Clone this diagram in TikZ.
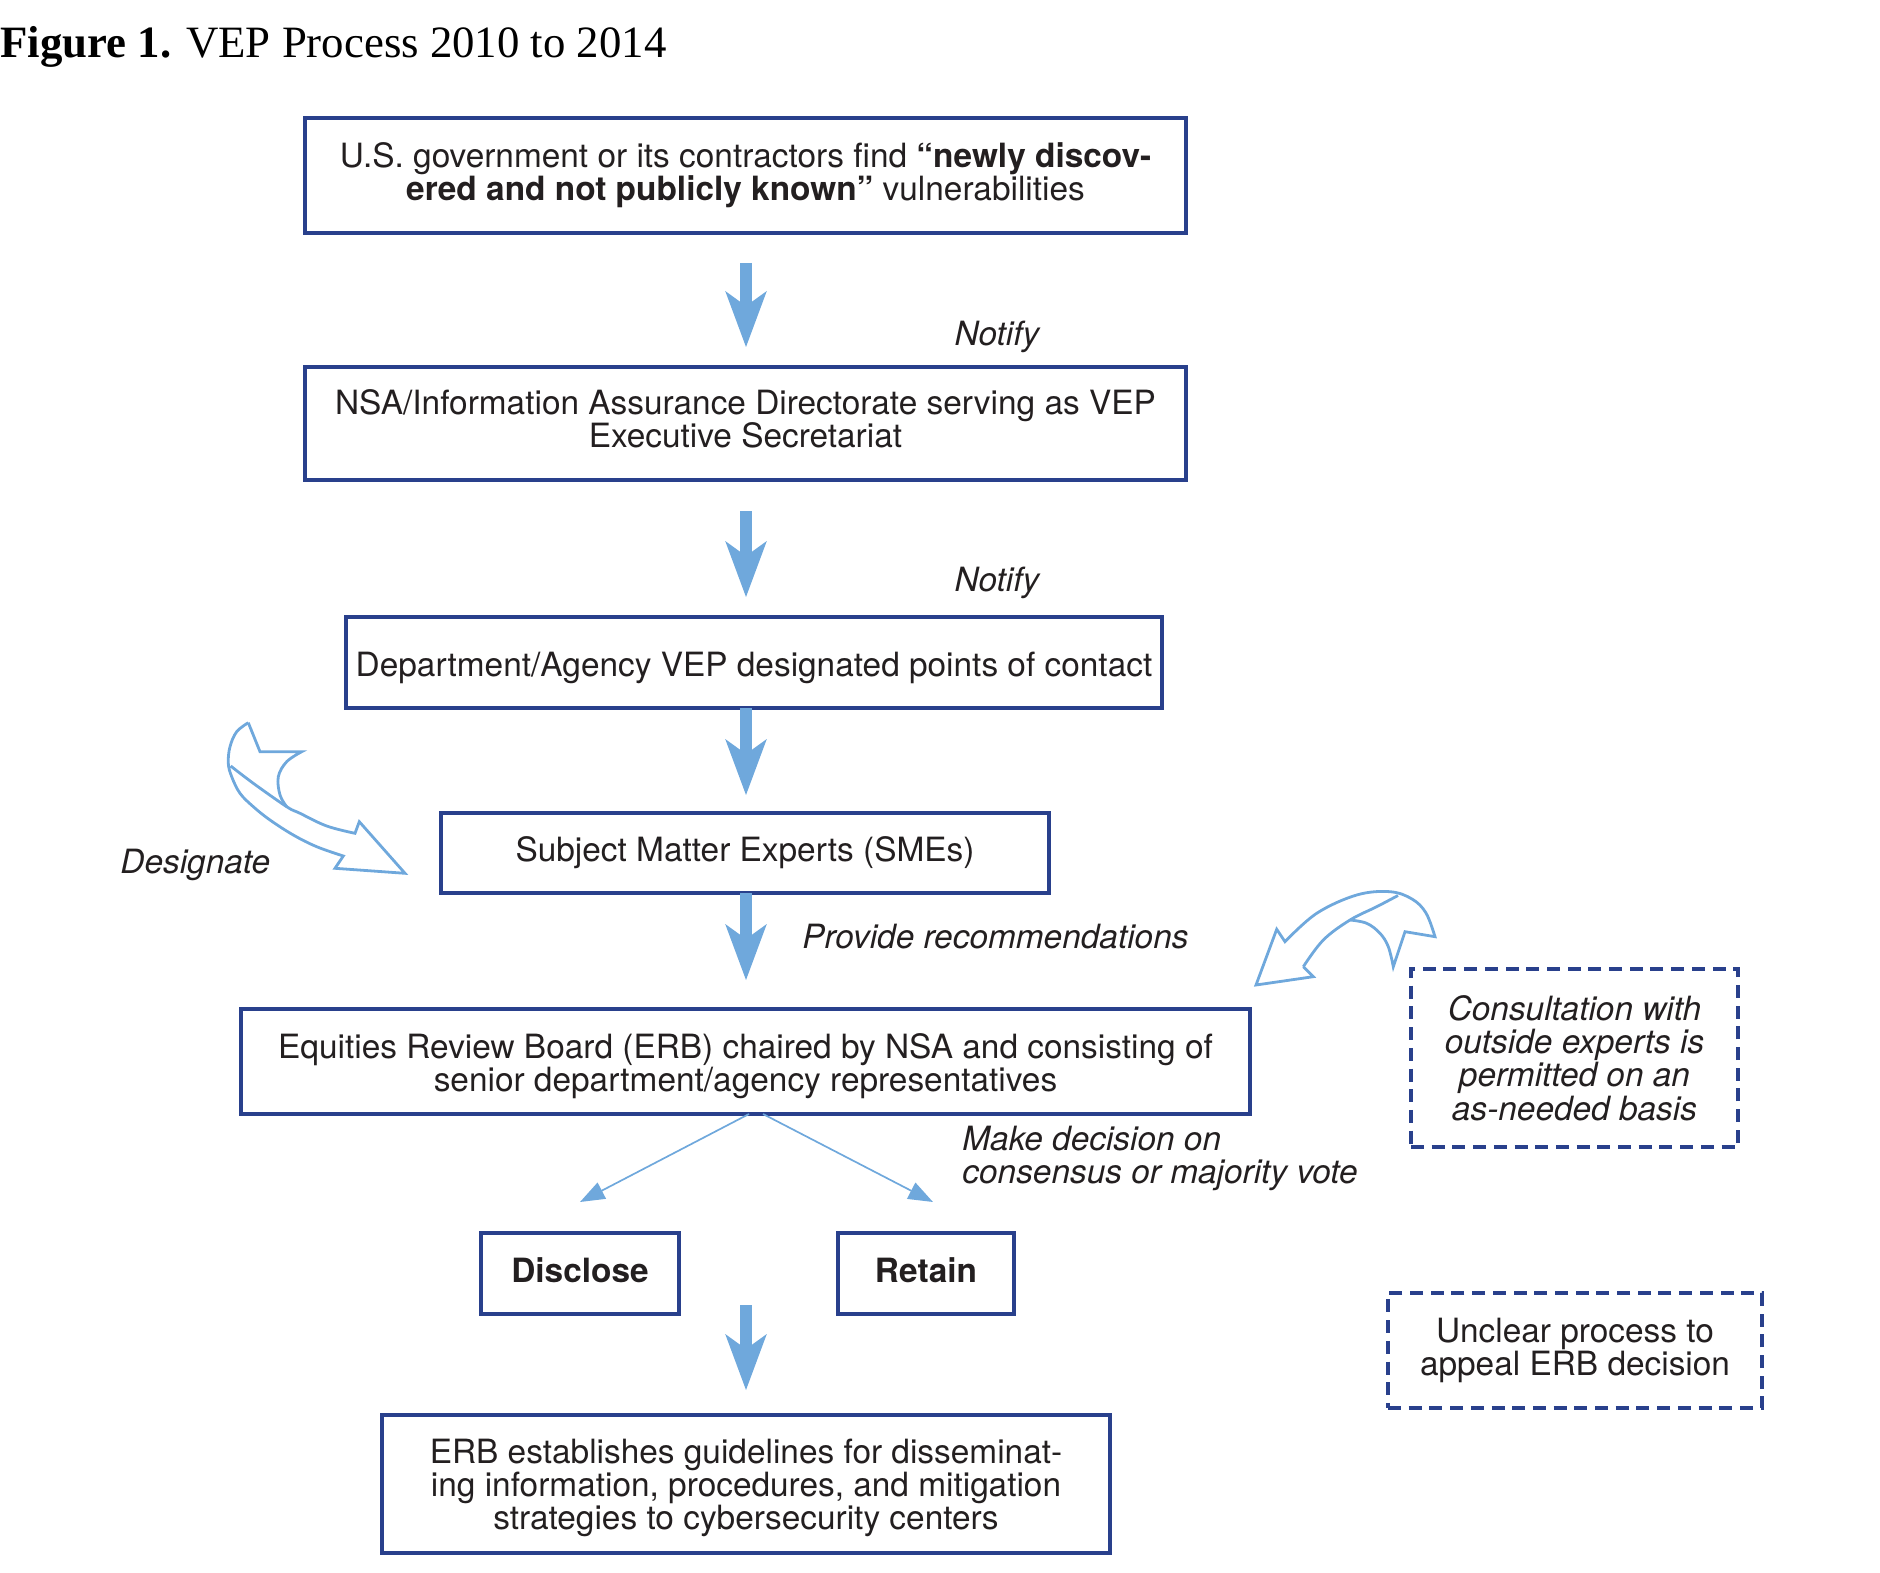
\documentclass[tikz,border=0pt]{standalone}
\usepackage{fontspec}
\setmainfont{TeX Gyre Heros}
\newfontfamily\titlefont{Liberation Serif}
\usetikzlibrary{arrows.meta,calc}
\definecolor{boxblue}{HTML}{29408C}
\definecolor{arrblue}{HTML}{6FA8DC}
\definecolor{txt}{HTML}{231F20}
\begin{document}
\begin{tikzpicture}[x=0.5pt,y=-0.5pt,
  font=\fontsize{16.7pt}{16.65pt}\selectfont,
  box/.style={draw=boxblue, line width=1.65pt, inner sep=0pt, align=center, text=txt},
  dbox/.style={box, dash pattern=on 6.5pt off 3.85pt},
  bigarrow/.style={draw=arrblue, line width=6pt, -{Stealth[length=28pt,width=20.8pt,inset=7.5pt,line width=0pt]}},
  thinarrow/.style={draw=arrblue, line width=0.85pt, -{Triangle[length=12.3pt,width=9pt]}},
  curvearrow/.style={draw=arrblue, line width=1.4pt},
  lbl/.style={inner sep=0pt, text=txt, font=\fontsize{16.7pt}{16.65pt}\selectfont\itshape}]
\useasboundingbox (0,0) rectangle (1880,1573);

% title
\node[anchor=base west, inner sep=0pt, text=black, font=\titlefont\fontsize{22.4pt}{26pt}\selectfont] (title) at (0,58) {\textbf{Figure 1.} VEP Process 2010 to 2014};

% boxes
\node[box, minimum width=440.5pt, minimum height=57.5pt] (b1) at (745.5,175.5)
  {U.S. government or its contractors find \textbf{“newly discov-}\\\textbf{ered and not publicly known”} vulnerabilities};
\node[box, minimum width=440.5pt, minimum height=56.5pt] (b2) at (745.5,423.5)
  {NSA/Information Assurance Directorate serving as VEP\\Executive Secretariat\rule[-4.8pt]{0pt}{4.8pt}};
\node[box, minimum width=408pt, minimum height=45.5pt, text height=16pt, text depth=1.8pt] (b3) at (754,662.5)
  {Department/Agency VEP designated points of contact};
\node[box, minimum width=304pt, minimum height=40pt] (b4) at (745,853)
  {Subject Matter Experts (SMEs)};
\node[box, minimum width=504.5pt, minimum height=52.5pt] (b5) at (745.5,1061.5)
  {\rule{0pt}{16.8pt}Equities Review Board (ERB) chaired by NSA and consisting of\\senior department/agency representatives};
\node[box, minimum width=99pt, minimum height=40.5pt, text height=10pt, text depth=1pt, font=\fontsize{16.7pt}{16.65pt}\selectfont\bfseries] (dis) at (580,1273.5) {Disclose};
\node[box, minimum width=88pt, minimum height=40.5pt, text height=10pt, text depth=1pt, font=\fontsize{16.7pt}{16.65pt}\selectfont\bfseries] (ret) at (926,1273.5) {Retain};
\node[box, minimum width=364pt, minimum height=69pt] (b8) at (746,1484)
  {\rule{0pt}{16pt}ERB establishes guidelines for disseminat-\\ing information, procedures, and mitigation\\strategies to cybersecurity centers};
\node[dbox, minimum width=163.5pt, minimum height=89pt, font=\fontsize{16.7pt}{16.65pt}\selectfont\itshape] (cons) at (1574.5,1058)
  {Consultation with\\outside experts is\\permitted on an\\as-needed basis};
\node[dbox, minimum width=187pt, minimum height=57.5pt] (unc) at (1575,1350.5)
  {Unclear process to\\appeal ERB decision};

% straight arrows
\coordinate (a1s) at (746,263);  \coordinate (a1e) at (746,347);
\coordinate (a2s) at (746,511);  \coordinate (a2e) at (746,597);
\coordinate (a3s) at (746,708);  \coordinate (a3e) at (746,795);
\coordinate (a4s) at (746,893);  \coordinate (a4e) at (746,980);
\coordinate (a5s) at (746,1305); \coordinate (a5e) at (746,1390);
\draw[bigarrow] (a1s) -- (a1e);
\draw[bigarrow] (a2s) -- (a2e);
\draw[bigarrow] (a3s) -- (a3e);
\draw[bigarrow] (a4s) -- (a4e);
\draw[bigarrow] (a5s) -- (a5e);

% decision arrows
\coordinate (t1s) at (749,1114); \coordinate (t1e) at (580,1202);
\coordinate (t2s) at (763,1114); \coordinate (t2e) at (933,1202);
\draw[thinarrow] (t1s) -- (t1e);
\draw[thinarrow] (t2s) -- (t2e);

% labels
\node[lbl, anchor=base] (n1) at (997,346) {Notify};
\node[lbl, anchor=base] (n2) at (997,591) {Notify};
\node[lbl, anchor=base west] (des) at (120,873) {Designate};
\node[lbl, anchor=base west] (prov) at (802,948) {Provide recommendations};
\node[lbl, anchor=west, align=left] (mk) at (962,1158.5) {Make decision on\\consensus or majority vote};

% designate curved arrow
\draw[curvearrow] (248.3,722.7) -- (260,751.7) -- (301.7,751.7) -- plot[smooth,tension=0.6] coordinates {(301.7,751.7) (286.7,761.7) (278.3,776.7) (280,795) (286.7,806.7)};
\draw[curvearrow, line join=miter] plot[smooth,tension=0.6] coordinates {(248.3,722.7) (236.7,731.7) (230,746.7) (228.3,763.3) (231.7,776.7) (240,793.3) (253.3,806.7) (270,820) (293.3,835) (316.7,846.7) (343.3,856)} -- (335,868.3) -- (405,873.3) -- (359.3,821.7) -- (355,833.3) -- plot[smooth,tension=0.6] coordinates {(355,833.3) (326.7,826) (300,813.3) (286.7,806.7) (253.3,783.3) (230.7,766)};

% consultation curved arrow
\draw[curvearrow] (1303.3,966.7) -- (1313.3,976.7) -- (1256,985) -- (1276.7,929.3) -- (1285,941.7) -- plot[smooth,tension=0.6] coordinates {(1285,941.7) (1316.7,913.3) (1356.7,895) (1390,891.7) (1412,899) (1426,913) (1435,936.7)} -- (1405,931.7) -- (1393.3,966.7) -- plot[smooth,tension=0.6] coordinates {(1393.3,966.7) (1388.3,946.7) (1380,933.3) (1366.7,923.3) (1350,920)};
\draw[curvearrow] plot[smooth,tension=0.6] coordinates {(1398,895.5) (1376.7,906.7) (1350,920) (1323.3,940) (1303.3,966.7)};
\end{tikzpicture}
\end{document}
